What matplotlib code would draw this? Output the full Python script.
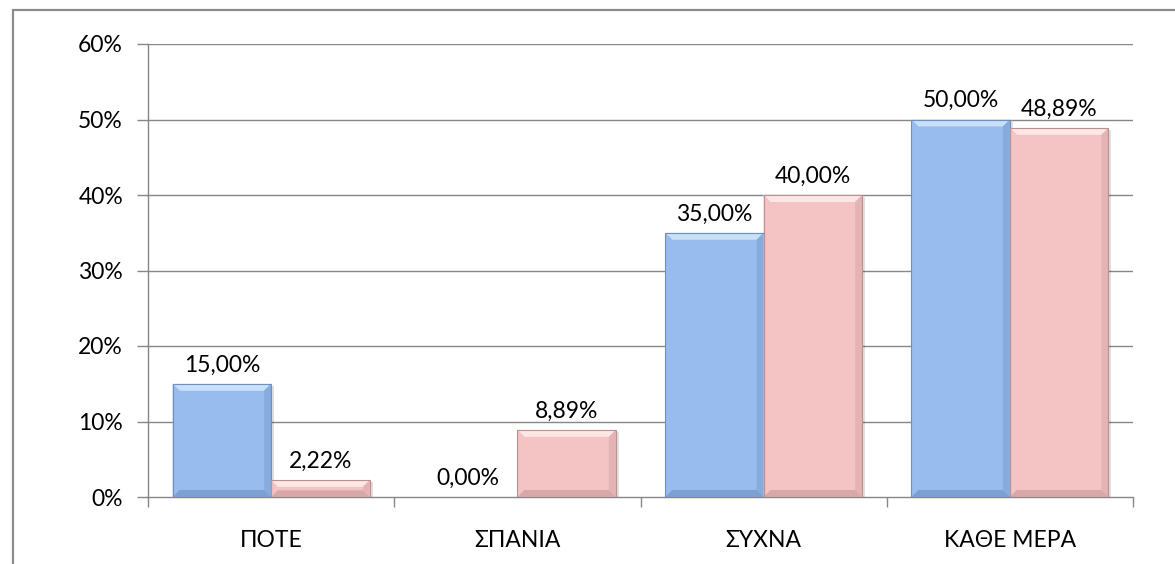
import matplotlib
matplotlib.use("Agg")
import matplotlib.pyplot as plt
from matplotlib.patches import Rectangle, Polygon
import numpy as np

categories = ["ΠΟΤΕ", "ΣΠΑΝΙΑ", "ΣΥΧΝΑ", "ΚΑΘΕ ΜΕΡΑ"]
series_a = [15.00, 0.00, 35.00, 50.00]
series_b = [2.22, 8.89, 40.00, 48.89]
yticks = [0, 10, 20, 30, 40, 50, 60]

plt.rcParams['font.family'] = ['Lato', 'DejaVu Sans']
FS = 16.5

W, H = 1175, 564
fig = plt.figure(figsize=(W / 100, H / 100), dpi=100)
ax = fig.add_axes([148 / W, 1 - 497 / H, (1133 - 148) / W, (497 - 44) / H])

grid_c = "#868686"
ax.set_xlim(0, len(categories))
ax.set_ylim(0, 60)
ax.set_yticks(yticks)
ax.set_yticklabels([f"{v}%" for v in yticks], fontsize=FS)
for v in yticks[1:]:
    ax.axhline(v, color=grid_c, lw=1.0, zorder=0)
ax.set_xticks(np.arange(len(categories)) + 0.5)
ax.set_xticklabels(categories, fontsize=FS)
ax.set_xticks(np.arange(len(categories) + 1), minor=True)
ax.tick_params(axis="x", which="major", length=0, pad=24)
ax.tick_params(axis="x", which="minor", length=7, color=grid_c, width=1)
ax.tick_params(axis="y", length=8, color=grid_c, width=1, pad=10)
for s in ["top", "right"]:
    ax.spines[s].set_visible(False)
for s in ["left", "bottom"]:
    ax.spines[s].set_color(grid_c)
    ax.spines[s].set_linewidth(1.0)

fig.canvas.draw()
# pixel -> data scale
sx = 1.0 / (ax.transData.transform((1, 0))[0] - ax.transData.transform((0, 0))[0])
sy = 1.0 / (ax.transData.transform((0, 1))[1] - ax.transData.transform((0, 0))[1])

bw = 0.4
x = np.arange(len(categories))
styles = [
    (series_a, 0.1, "#98BCEE", "#C9E0FA", "#88ABDD", "#7E9FD0", "#6E8FC0"),
    (series_b, 0.5, "#F4C3C3", "#FCE6E6", "#E4B3B3", "#D8A8A8", "#BC9090"),
]
for vals, off, face, light, side, bottom, edge in styles:
    for xi, v in zip(x, vals):
        x0 = xi + off
        x1 = x0 + bw
        if v <= 0:
            continue
        # shadow
        ax.add_patch(Rectangle((x0 + 3 * sx, -2.0 * sy), bw, v, facecolor="#000000",
                               alpha=0.12, lw=0, zorder=2))
        ax.add_patch(Rectangle((x0, 0), bw, v, facecolor=face, edgecolor="none", zorder=3))
        bpx = min(7.0, (v / sy) / 2.5)
        dx, dy = bpx * sx, bpx * sy
        top = Polygon([(x0, v), (x1, v), (x1 - dx, v - dy), (x0 + dx, v - dy)],
                      closed=True, facecolor=light, edgecolor="none", zorder=4)
        left = Polygon([(x0, 0), (x0, v), (x0 + dx, v - dy), (x0 + dx, dy)],
                       closed=True, facecolor=face, edgecolor="none", zorder=4)
        right = Polygon([(x1, 0), (x1, v), (x1 - dx, v - dy), (x1 - dx, dy)],
                        closed=True, facecolor=side, edgecolor="none", zorder=4)
        bot = Polygon([(x0, 0), (x1, 0), (x1 - dx, dy), (x0 + dx, dy)],
                      closed=True, facecolor=bottom, edgecolor="none", zorder=4)
        for p in (top, left, right, bot):
            ax.add_patch(p)
        ax.add_patch(Rectangle((x0, 0), bw, v, facecolor="none", edgecolor=edge,
                               lw=0.8, zorder=5))

for vals, off in [(series_a, 0.1), (series_b, 0.5)]:
    for xi, v in zip(x, vals):
        ax.annotate(f"{v:.2f}%".replace(".", ","), (xi + off + bw / 2, v),
                    xytext=(0, 6), textcoords="offset points",
                    ha="center", va="bottom", fontsize=FS, zorder=6)

# outer chart frame
fig.patches.append(Rectangle((13 / W, -0.1), 1.2, 1 - 10 / H + 0.1,
                             transform=fig.transFigure, facecolor="none",
                             edgecolor="#8C8C8C", lw=1.6))

fig.savefig("out.png", dpi=100)
